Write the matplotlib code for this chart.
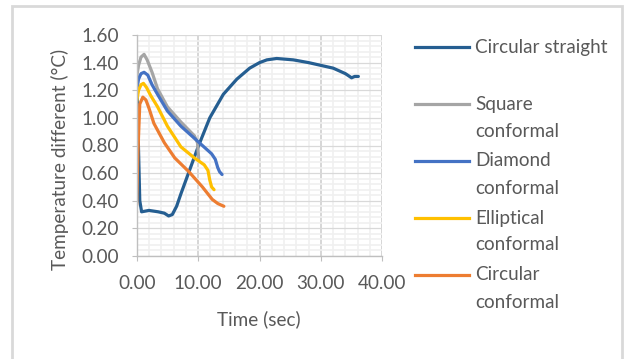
import matplotlib.pyplot as plt
from matplotlib.ticker import MultipleLocator
from matplotlib.lines import Line2D
from matplotlib.patches import Rectangle

plt.rcParams['font.family'] = ['Lato', 'DejaVu Sans']

# circular straight
t_cs = [0, 0.5, 0.8, 2.0, 3.5, 4.5, 5.2, 5.8, 6.5, 7.2, 8.6, 10.0, 11.9, 14.1, 16.3,
        18.4, 20.0, 21.2, 22.8, 25.5, 28.0, 30.0, 32.0, 34.0, 35.0, 35.5, 36.1]
y_cs = [1.31, 0.40, 0.32, 0.33, 0.32, 0.31, 0.29, 0.30, 0.36, 0.45, 0.62, 0.79, 1.00, 1.17, 1.28,
        1.36, 1.40, 1.42, 1.43, 1.42, 1.40, 1.38, 1.36, 1.32, 1.29, 1.30, 1.30]
# square conformal
t_sq = [0, 0.3, 0.7, 1.2, 1.7, 2.5, 3.4, 5.0, 7.2, 9.4, 9.9, 10.1]
y_sq = [1.30, 1.38, 1.44, 1.46, 1.42, 1.33, 1.21, 1.08, 0.97, 0.87, 0.82, 0.70]
# diamond conformal
t_di = [0, 0.3, 0.7, 1.2, 1.8, 2.5, 3.4, 5.0, 7.2, 9.7, 12.2, 12.8, 13.2, 13.5, 13.9]
y_di = [1.20, 1.28, 1.32, 1.33, 1.31, 1.24, 1.17, 1.05, 0.94, 0.84, 0.74, 0.70, 0.64, 0.61, 0.59]
# elliptical conformal
t_el = [0, 0.3, 0.7, 1.1, 1.6, 2.3, 3.4, 5.0, 7.2, 9.4, 11.0, 11.6, 11.9, 12.2, 12.6]
y_el = [1.12, 1.20, 1.24, 1.25, 1.22, 1.16, 1.08, 0.94, 0.79, 0.71, 0.66, 0.62, 0.55, 0.50, 0.48]
# circular conformal
t_cc = [0, 0.2, 0.5, 1.0, 1.5, 2.0, 2.8, 4.5, 6.2, 8.5, 10.7, 12.3, 13.2, 14.2]
y_cc = [0.37, 0.75, 1.10, 1.15, 1.13, 1.07, 0.96, 0.82, 0.71, 0.61, 0.50, 0.41, 0.38, 0.36]

labels = ['Circular straight', 'Square\nconformal', 'Diamond\nconformal',
          'Elliptical\nconformal', 'Circular\nconformal']
colors = ['#255e91', '#a5a5a5', '#4472c4', '#ffc000', '#ed7d31']
series = [(t_cs, y_cs), (t_sq, y_sq), (t_di, y_di), (t_el, y_el), (t_cc, y_cc)]

W, H = 628, 359
fs = 13.6
fig = plt.figure(figsize=(W / 100, H / 100), dpi=100)
fig.patches.append(Rectangle((12 / W, -0.1), 609.5 / W, 1.1 - 6 / H, transform=fig.transFigure,
                             fill=False, ec='#d9d9d9', lw=2))
ax = fig.add_axes([136.7 / W, 1 - 256 / H, 245.6 / W, 221 / H])

for (t, y), c in zip(series, colors):
    ax.plot(t, y, color=c, lw=2.3, solid_capstyle='round')

ax.set_xlim(0, 40)
ax.set_ylim(0, 1.6)
ax.xaxis.set_major_locator(MultipleLocator(10))
ax.xaxis.set_minor_locator(MultipleLocator(2))
ax.yaxis.set_major_locator(MultipleLocator(0.2))
ax.yaxis.set_minor_locator(MultipleLocator(0.04))
ax.xaxis.set_major_formatter(lambda v, p: f'{v:.2f}')
ax.yaxis.set_major_formatter(lambda v, p: f'{v:.2f}')
ax.grid(which='minor', color='#f0f0f0', lw=1.2)
ax.grid(which='major', axis='y', color='#d9d9d9', lw=0.9)
ax.grid(which='major', axis='x', color='#d0d0d0', lw=1.2)
ax.set_axisbelow(True)
for s in ['top', 'right']:
    ax.spines[s].set_visible(False)
for s in ['left', 'bottom']:
    ax.spines[s].set_color('#bfbfbf')
    ax.spines[s].set_linewidth(1)
ax.tick_params(which='major', length=3.8, color='#bfbfbf', labelcolor='#595959', labelsize=fs)
ax.tick_params(which='minor', length=0)
ax.tick_params(axis='y', pad=9)
ax.tick_params(axis='x', pad=10)

ax.set_ylabel('Temperature different (°C)', color='#595959', fontsize=fs)
ax.yaxis.set_label_coords(-0.312, 0.439)
ax.set_xlabel('Time (sec)', color='#595959', fontsize=fs)
ax.xaxis.set_label_coords(0.498, -0.285)
ax.xaxis.label.set_va('center')
ax.yaxis.label.set_va('center')

# legend drawn by hand to keep the Excel slot spacing
for i, (lab, c) in enumerate(zip(labels, colors)):
    yp = 47 + 57 * i
    fig.add_artist(Line2D([415 / W, 469 / W], [1 - yp / H, 1 - yp / H], color=c, lw=2.3,
                          transform=fig.transFigure))
    for j, line in enumerate(lab.split('\n')):
        fig.text(475 / W, 1 - (yp + 27 * j) / H, line, color='#595959', fontsize=fs,
                 va='center', ha='left')

fig.savefig('out.png', dpi=100)
